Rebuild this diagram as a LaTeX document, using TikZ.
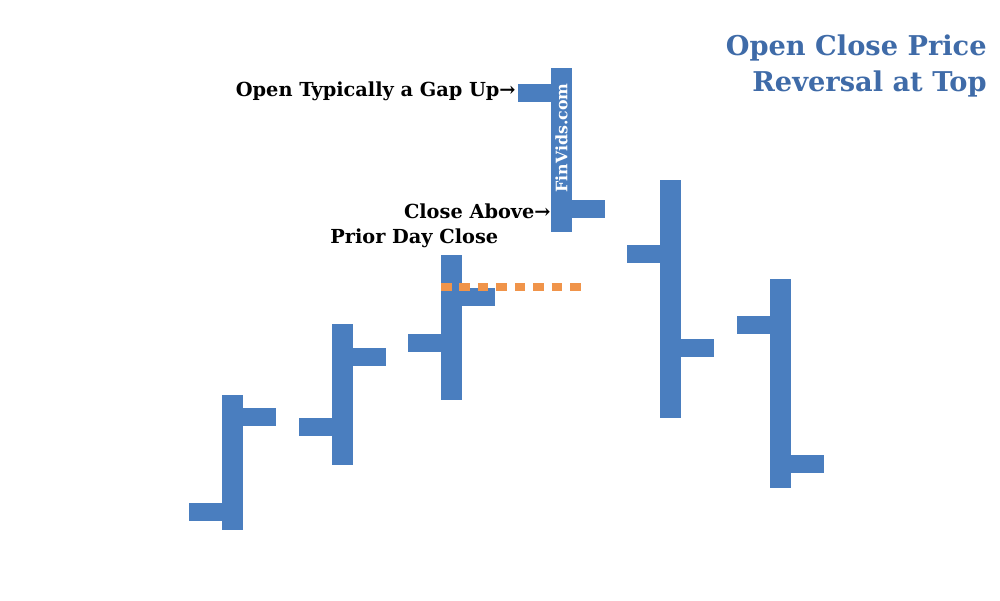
\documentclass[tikz,border=0pt]{standalone}
\usepackage{fontspec}
\setmainfont{DejaVu Serif}
\definecolor{barblue}{HTML}{4A7EBF}
\definecolor{titleblue}{HTML}{3F6BA8}
\definecolor{dotorange}{HTML}{F0944A}
\begin{document}
\begin{tikzpicture}[x=0.02cm,y=-0.02cm,
  barfill/.style={fill=barblue,draw=none},
  lbl/.style={font=\bfseries\fontsize{11}{13}\selectfont,inner sep=0pt},
  ttl/.style={font=\bfseries\fontsize{15.5}{20.5}\selectfont,text=titleblue,align=right,inner sep=0pt}]
\useasboundingbox (0,0) rectangle (1000,600);
\foreach \xa/\yt/\yb/\yo/\yc [count=\i] in {222/395/530/503/408, 332/324/465/418/348, 441/255/400/334/288, 551/68/232/84/200, 660/180/418/245/339, 770/279/488/316/455}{
  \fill[barfill] (\xa,\yt) rectangle ++(21,\yb-\yt);
  \fill[barfill] (\xa-33,\yo) rectangle ++(33,18);
  \fill[barfill] (\xa+21,\yc) rectangle ++(33,18);
}
\node[rotate=90,text=white,font=\bfseries\fontsize{9}{9}\selectfont,inner sep=0pt] (wm) at (561.5,138) {FinVids.com};
\draw[dotorange,line width=5pt,dash pattern=on 6pt off 4.5pt] (441,287) -- (585,287);
\node[lbl,anchor=east] (t1) at (516,91) {Open Typically a Gap Up→};
\node[lbl,anchor=east] (t2) at (551,211) {Close Above→};
\node[lbl,anchor=west] (t3) at (330,238) {Prior Day Close};
\node[ttl,anchor=north east] (title) at (987,34) {Open Close Price\\Reversal at Top};
\end{tikzpicture}
\end{document}
